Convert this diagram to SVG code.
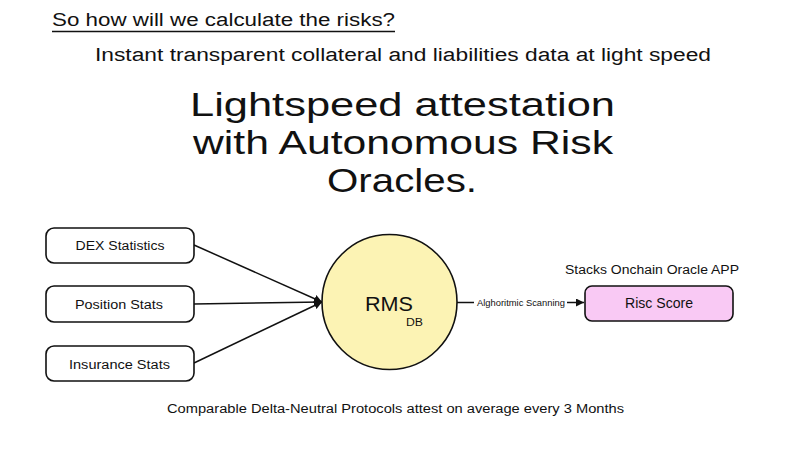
<svg xmlns="http://www.w3.org/2000/svg" width="806" height="453" viewBox="0 0 806 453">
<defs>
<style>
text{font-family:"Liberation Sans",Arial,sans-serif;fill:#111}
.box{stroke:#111;stroke-width:1.6}
.edge{stroke:#111;stroke-width:1.5;fill:none}
.lbl{font-size:12.5px;text-anchor:middle}
</style>
<marker id="ah" viewBox="0 0 10 10" refX="10" refY="5" markerWidth="8" markerHeight="8" orient="auto" markerUnits="userSpaceOnUse">
<path d="M0,0 L10,5 L0,10 z" fill="#111"/>
</marker>
</defs>
<rect width="806" height="453" fill="#fff"/>
<g id="header">
<text x="52" y="26" font-size="18" textLength="343" lengthAdjust="spacingAndGlyphs">So how will we calculate the risks?</text>
<line x1="52" y1="31.5" x2="395" y2="31.5" stroke="#111" stroke-width="1.3"/>
<text x="95" y="61" font-size="18" textLength="616" lengthAdjust="spacingAndGlyphs">Instant transparent collateral and liabilities data at light speed</text>
<text x="190" y="116" font-size="34" textLength="425" lengthAdjust="spacingAndGlyphs">Lightspeed attestation</text>
<text x="193" y="154" font-size="34" textLength="420" lengthAdjust="spacingAndGlyphs">with Autonomous Risk</text>
<text x="327" y="192" font-size="34" textLength="150" lengthAdjust="spacingAndGlyphs">Oracles.</text>
</g>
<g id="connectors">
<line class="edge" x1="194" y1="245" x2="322" y2="302" marker-end="url(#ah)"/>
<line class="edge" x1="194" y1="304" x2="322" y2="302" marker-end="url(#ah)"/>
<line class="edge" x1="194" y1="363" x2="322" y2="302" marker-end="url(#ah)"/>
<line class="edge" x1="457" y1="302.5" x2="474" y2="302.5"/>
<line class="edge" x1="567" y1="302.5" x2="584" y2="302.5" marker-end="url(#ah)"/>
<text x="477" y="305.5" font-size="8.5" textLength="88" lengthAdjust="spacingAndGlyphs">Alghoritmic Scanning</text>
</g>
<g id="dex">
<rect class="box" x="46" y="228" width="148" height="35" rx="8" fill="#fff"/>
<text class="lbl" x="120" y="250" textLength="89" lengthAdjust="spacingAndGlyphs">DEX Statistics</text>
</g>
<g id="position">
<rect class="box" x="46" y="286" width="148" height="36" rx="8" fill="#fff"/>
<text class="lbl" x="119" y="309" textLength="88" lengthAdjust="spacingAndGlyphs">Position Stats</text>
</g>
<g id="insurance">
<rect class="box" x="46" y="346" width="148" height="35" rx="8" fill="#fff"/>
<text class="lbl" x="119.5" y="368.5" textLength="101" lengthAdjust="spacingAndGlyphs">Insurance Stats</text>
</g>
<g id="rms">
<circle class="box" cx="389.5" cy="302" r="67.5" fill="#fcf3b4"/>
<text x="389" y="311" font-size="21" text-anchor="middle" textLength="48" lengthAdjust="spacingAndGlyphs">RMS</text>
<text x="414.5" y="326" font-size="10" text-anchor="middle" textLength="17" lengthAdjust="spacingAndGlyphs">DB</text>
</g>
<g id="risc">
<text x="565" y="274" font-size="12.5" textLength="174" lengthAdjust="spacingAndGlyphs">Stacks Onchain Oracle APP</text>
<rect class="box" x="585" y="286" width="148" height="35" rx="7" fill="#f9c9f4"/>
<text x="625" y="307.5" font-size="14" textLength="68" lengthAdjust="spacingAndGlyphs">Risc Score</text>
</g>
<g id="footer">
<text x="167" y="413" font-size="12" textLength="457" lengthAdjust="spacingAndGlyphs">Comparable Delta-Neutral Protocols attest on average every 3 Months</text>
</g>
</svg>
